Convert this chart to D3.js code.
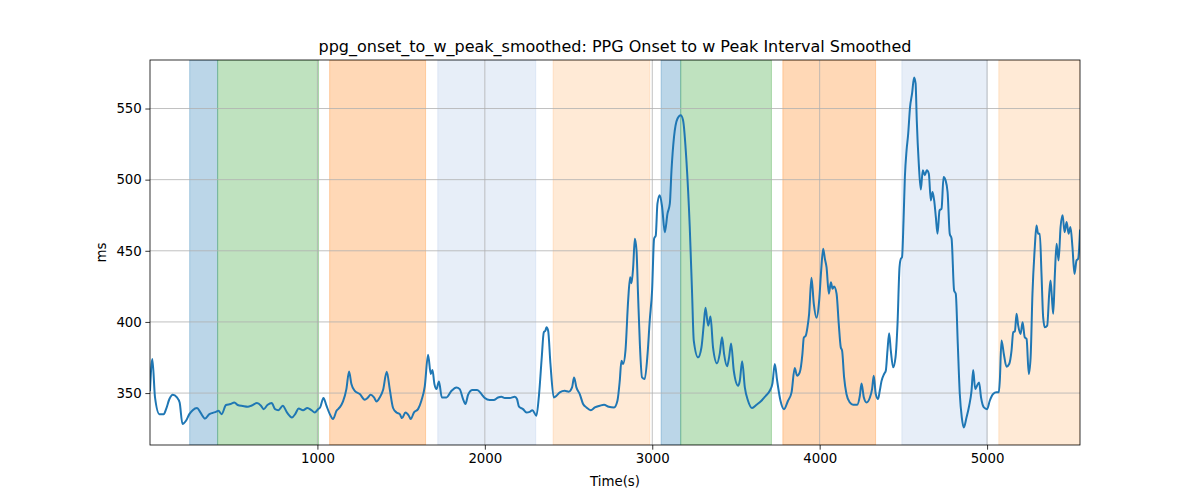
<!DOCTYPE html>
<html>
<head>
<meta charset="utf-8">
<script src="https://cdn.jsdelivr.net/npm/d3@7"></script>
<style>
  html, body { margin: 0; padding: 0; background: #fff; }
  svg { display: block; font-family: "DejaVu Sans", sans-serif; }
</style>
</head>
<body>
<svg id="chart" width="1200" height="500"></svg>
<script>
const title = "ppg_onset_to_w_peak_smoothed: PPG Onset to w Peak Interval Smoothed";
const xLabel = "Time(s)";
const yLabel = "ms";
const xTicks = [1000, 2000, 3000, 4000, 5000];
const yTicks = [350, 400, 450, 500, 550];

const bandStarts = [237, 404, 1073, 1719, 2408, 3053, 3170, 3780, 4491, 5070];
const bandEnds   = [404, 1007, 1646, 2304, 2985, 3170, 3712, 4334, 5000, 5555];
const bandColors = ["#1f77b4", "#2ca02c", "#ff7f0e", "#aec7e8", "#ffbb78",
                    "#1f77b4", "#2ca02c", "#ff7f0e", "#aec7e8", "#ffbb78"];

const times = [0,14,30,56,82,96,116,136,161,177,194,215,235,255,281,301,329,355,375,394,409,428,454,480,504,524,554,584,608,639,663,679,703,727,747,767,793,818,
848,869,888,914,940,964,984,1004,1016,1036,1054,1074,1093,1114,1133,1153,1173,1189,1203,1223,1253,1283,1299,1318,1338,1353,1372,1392,1414,1432,1452,1472,1492,1505,1526,1546,1557,1577,1601,1621,1641,
1661,1677,1687,1699,1711,1726,1743,1771,1801,1830,1850,1870,1884,1900,1926,1954,1980,2000,2029,2053,2079,2099,2119,2149,2179,2192,2204,2228,2249,2268,2284,2308,2324,2340,2352,2362,2368,2378,2392,2412,2428,
2448,2477,2501,2521,2533,2547,2567,2587,2607,2633,2657,2687,2712,2740,2772,2792,2806,2816,2826,2840,2856,2868,2876,2886,2896,2906,2915,2926,2939,2955,2972,2985,2999,3011,3021,3031,3045,3059,3075,3091,3105,3115,3130,3151,3170,3184,3204,3224,3238,
3248,3274,3294,3308,3318,3334,3348,3363,3387,3403,3417,3429,3447,3459,3471,3487,3513,3523,3537,3553,3572,3596,3623,3652,3678,3702,3718,3732,3746,3766,3787,3811,3832,3851,3865,3881,3897,3905,3917,3927,3937,3951,3965,3981,3997,4009,4021,4031,
4041,4055,4067,4077,4086,4101,4114,4126,4134,4146,4160,4180,4200,4224,4240,4250,4264,4280,4300,4313,4323,4335,4349,4359,4369,4385,4395,4405,4415,4425,4439,4453,4465,4477,4485,4492,4501,4509,4519,4528,4540,4552,4564,4573,4580,4592,4604,4616,4628,4640,4652,4664,4674,4684,4694,4704,4716,4728,4740,4752,4764,4777,4788,4803,
4813,4825,4837,4849,4861,4877,4893,4907,4917,4929,4940,4952,4964,4981,5000,5016,5036,5056,5070,5076,5086,5100,5116,5132,5146,5156,5166,5176,5186,5200,5212,5225,5236,5249,5260,5271,5285,5295,5305,5315,5325,5335,5345,5359,5371,5379,5387,5395,5405,5415,5427,5439,5451,5463,5475,5487,5498,5510,5522,5534,5544,5555];

const values = [352,374.0,346.9,335.2,335.2,338.7,345.8,348.8,346.9,343.4,328.2,330.5,335.2,338.0,339.5,336.4,332.1,335.2,336.1,336.8,337.5,335.2,341.6,342.3,343.4,341.6,340.9,340.4,341.3,343.0,341.1,338.7,341.8,343.0,338.7,338.0,341.1,336.4,
332.9,335.6,339.2,338.0,339.5,338.0,336.4,338.7,339.9,346.5,341.1,335.2,331.7,337.5,339.9,344.1,352.8,365.2,356.3,351.6,349.3,345.3,346.5,348.8,346.9,344.1,346.9,352.1,365.0,352.8,339.5,336.4,335.2,332.4,336.4,334.1,331.7,336.4,338.7,344.6,354.5,
377.0,363.4,366.2,356.3,352.8,358.2,346.9,346.9,351.6,354.0,352.8,345.8,342.3,348.8,352.1,352.1,349.3,346.5,345.1,345.1,346.9,347.4,346.5,346.5,347.4,345.8,340.4,338.7,336.4,336.8,338.0,334.1,349.3,375.1,392.7,393.9,396.2,393.9,370.4,346.9,348.1,
350.5,351.6,351.0,354.0,361.0,354.0,349.3,342.3,339.9,338.0,339.9,341.1,341.8,340.4,339.9,344.6,358.7,372.8,370.4,379.8,415.0,431.4,427.2,438.5,458.5,450.2,419.8,384.5,361.0,359.9,377.5,401.0,422.1,458.5,460.8,483.1,489.0,480.7,463.1,476.1,483.1,506.6,530.0,543.0,545.3,541.8,513.6,466.7,419.8,
386.9,375.1,382.2,398.6,409.9,397.4,403.8,382.2,370.9,377.5,389.2,377.5,368.8,375.1,384.9,365.7,355.2,358.7,372.3,354.0,344.6,339.5,341.8,344.6,348.1,351.6,356.8,370.4,358.7,344.6,338.7,344.6,350.5,367.6,362.2,364.5,377.5,388.8,390.4,396.2,405.7,431.0,412.7,402.9,415.0,436.2,451.4,444.4,
438.5,419.8,427.9,423.3,424.9,419.8,398.6,382.2,379.8,361.0,349.3,343.4,341.8,341.8,348.1,356.8,346.9,343.4,346.9,352.8,362.2,349.3,345.8,351.6,358.2,363.4,365.7,379.8,392.0,379.8,368.1,375.1,398.6,438.5,444.4,445.5,471.4,501.8,520.6,531.2,551.1,560.6,571.8,567.6,541.8,511.3,493.0,506.6,503.1,506.6,504.2,485.4,491.3,485.4,473.7,462.0,478.4,479.6,501.8,499.5,491.3,462.0,458.5,422.1,
419.8,384.5,349.3,332.8,325.8,332.8,341.1,351.6,366.2,352.8,355.2,357.5,346.9,339.9,338.7,344.6,349.3,350.5,350.5,358.7,386.9,377.5,368.5,370.4,379.8,392.7,393.4,405.7,397.4,391.6,399.8,389.2,388.0,363.4,375.1,419.8,452.5,467.8,462.0,462.0,433.8,403.2,396.2,397.4,419.8,429.1,417.4,405.7,433.8,455.0,443.2,466.7,474.9,463.1,470.2,462.0,466.7,452.5,433.8,443.2,444.4,464.3];

const W = 1200, H = 500;
const m = { left: 150, right: 1080, top: 60, bottom: 445 };

const svg = d3.select("#chart");

const x = d3.scaleLinear()
  .domain(d3.extent(times))
  .range([m.left, m.right]);

const [vmin, vmax] = d3.extent(values);
const pad = (vmax - vmin) * 0.05;
const y = d3.scaleLinear()
  .domain([vmin - pad, vmax + pad])
  .range([m.bottom, m.top]);

svg.append("clipPath").attr("id", "clip")
  .append("rect")
  .attr("x", m.left).attr("y", m.top)
  .attr("width", m.right - m.left).attr("height", m.bottom - m.top);

const plot = svg.append("g").attr("clip-path", "url(#clip)");

// bands
plot.selectAll("rect.band")
  .data(bandStarts.map((s, i) => ({ s, e: bandEnds[i], c: bandColors[i] })))
  .enter().append("rect")
  .attr("class", "band")
  .attr("x", d => x(d.s))
  .attr("width", d => x(d.e) - x(d.s))
  .attr("y", m.top)
  .attr("height", m.bottom - m.top)
  .attr("fill", d => d.c)
  .attr("fill-opacity", 0.3)
  .attr("stroke", d => d.c)
  .attr("stroke-opacity", 0.3)
  .attr("stroke-width", 1);

// grid
const grid = plot.append("g");
grid.selectAll("line.gx").data(xTicks).enter().append("line")
  .attr("x1", d => x(d)).attr("x2", d => x(d))
  .attr("y1", m.top).attr("y2", m.bottom)
  .attr("stroke", "#b0b0b0").attr("stroke-width", 0.8);
grid.selectAll("line.gy").data(yTicks).enter().append("line")
  .attr("y1", d => y(d)).attr("y2", d => y(d))
  .attr("x1", m.left).attr("x2", m.right)
  .attr("stroke", "#b0b0b0").attr("stroke-width", 0.8);

// line
const line = d3.line()
  .x((d, i) => x(times[i]))
  .y(d => y(d))
  .curve(d3.curveMonotoneX);
plot.append("path")
  .datum(values)
  .attr("d", line)
  .attr("fill", "none")
  .attr("stroke", "#1f77b4")
  .attr("stroke-width", 2)
  .attr("stroke-linejoin", "round")
  .attr("stroke-linecap", "square");

// axes
const xAxis = d3.axisBottom(x).tickValues(xTicks).tickSize(4.67).tickPadding(3.5).tickFormat(d3.format("d"));
const yAxis = d3.axisLeft(y).tickValues(yTicks).tickSize(4.67).tickPadding(3.5).tickFormat(d3.format("d"));

const gx = svg.append("g").attr("transform", `translate(0,${m.bottom})`).call(xAxis);
const gy = svg.append("g").attr("transform", `translate(${m.left},0)`).call(yAxis);
[gx, gy].forEach(g => {
  g.select(".domain").remove();
  g.selectAll(".tick line").attr("stroke", "#000").attr("stroke-width", 0.8);
  g.selectAll(".tick text").attr("fill", "#000").style("font-size", "13.33px").style("font-family", "DejaVu Sans");
});

// frame
svg.append("rect")
  .attr("x", m.left).attr("y", m.top)
  .attr("width", m.right - m.left).attr("height", m.bottom - m.top)
  .attr("fill", "none").attr("stroke", "#000").attr("stroke-width", 0.8);

// labels
svg.append("text")
  .attr("x", (m.left + m.right) / 2).attr("y", 52)
  .attr("text-anchor", "middle")
  .style("font-size", "16px")
  .text(title);

svg.append("text")
  .attr("x", (m.left + m.right) / 2).attr("y", 486)
  .attr("text-anchor", "middle")
  .style("font-size", "13.33px")
  .text(xLabel);

svg.append("text")
  .attr("transform", `translate(106,${(m.top + m.bottom) / 2}) rotate(-90)`)
  .attr("text-anchor", "middle")
  .style("font-size", "13.33px")
  .text(yLabel);
</script>
</body>
</html>
